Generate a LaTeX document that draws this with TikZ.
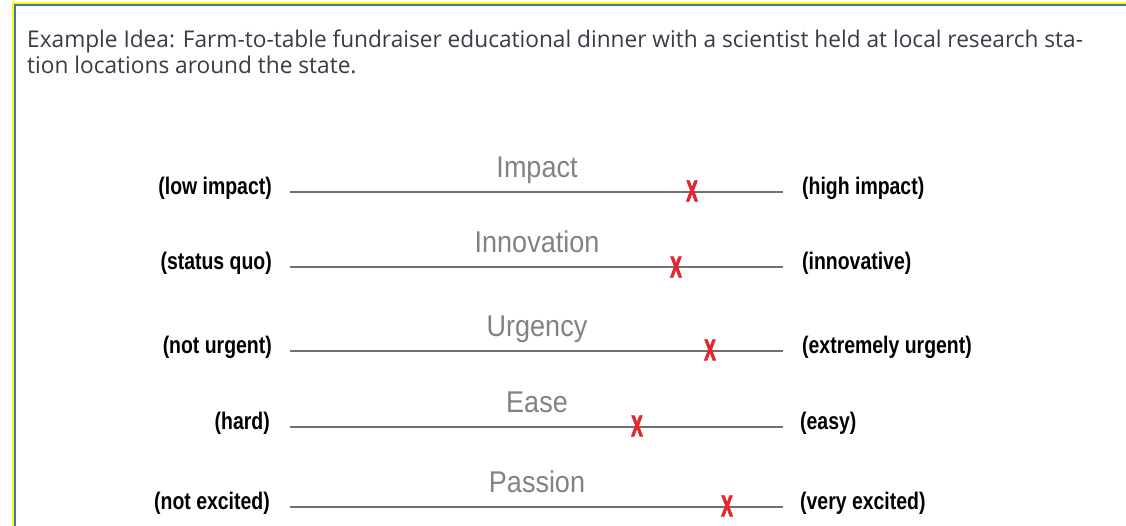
\documentclass[tikz,border=0pt]{standalone}
\usepackage{fontspec}
\setmainfont{Open Sans}
\newfontfamily\bodyfont[FakeStretch=0.985]{Open Sans}
\newfontfamily\labfont[FakeStretch=0.81]{Liberation Sans}
\newfontfamily\titfont[FakeStretch=0.9]{Liberation Sans}
\newfontfamily\xfont[FakeStretch=0.58,FakeBold=2.5]{Liberation Sans Bold}
\definecolor{bodytxt}{HTML}{3A3A48}
\definecolor{frameblue}{HTML}{4472C4}
\definecolor{frameyellow}{HTML}{FFFF00}
\definecolor{titgray}{HTML}{828282}
\definecolor{linegray}{HTML}{707070}
\definecolor{xred}{HTML}{E3262F}
\tikzset{
  body/.style={anchor=base west, inner sep=0pt, text=bodytxt, font=\bodyfont\fontsize{23}{26}\selectfont},
  scaleline/.style={draw=linegray, line width=1.4pt},
  ttl/.style={anchor=base, inner sep=0pt, text=titgray, font=\titfont\fontsize{30}{34}\selectfont},
  lablft/.style={anchor=base east, inner sep=0pt, text=black, font=\labfont\bfseries\fontsize{24}{26}\selectfont},
  labrgt/.style={anchor=base west, inner sep=0pt, text=black, font=\labfont\bfseries\fontsize{24}{26}\selectfont},
  xmark/.style={anchor=center, inner sep=0pt, text=xred, font=\xfont\fontsize{30}{32}\selectfont}
}
\begin{document}
\begin{tikzpicture}[x=1pt,y=-1pt]
\useasboundingbox (0,0) rectangle (1126,525);
\fill[white] (0,0) rectangle (1126,525);
% frame
\draw[frameyellow, line width=2pt] (13,530) -- (13,3) -- (1130,3);
\draw[frameblue, line width=2pt] (15,530) -- (15,5) -- (1130,5);
% heading
\node[body] (h1) at (27,47) {Example Idea: Farm-to-table fundraiser educational dinner with a scientist held at local research sta-};
\node[body] (h2) at (27,73) {tion locations around the state.};
% Impact
\coordinate (a1) at (290,192); \coordinate (b1) at (783,192);
\draw[scaleline] (a1) -- (b1);
\node[ttl] (t1) at (537,177.5) {Impact};
\node[lablft] (l1) at (272,194) {(low impact)};
\node[labrgt] (r1) at (802,194) {(high impact)};
\node[xmark] (x1) at (692,191) {X};
% Innovation
\coordinate (a2) at (290,267); \coordinate (b2) at (783,267);
\draw[scaleline] (a2) -- (b2);
\node[ttl] (t2) at (537,252.5) {Innovation};
\node[lablft] (l2) at (272,269) {(status quo)};
\node[labrgt] (r2) at (802,269) {(innovative)};
\node[xmark] (x2) at (676,267) {X};
% Urgency
\coordinate (a3) at (290,351); \coordinate (b3) at (783,351);
\draw[scaleline] (a3) -- (b3);
\node[ttl] (t3) at (537,336.5) {Urgency};
\node[lablft] (l3) at (272,353) {(not urgent)};
\node[labrgt] (r3) at (802,353) {(extremely urgent)};
\node[xmark] (x3) at (710,350) {X};
% Ease
\coordinate (a4) at (290,427); \coordinate (b4) at (783,427);
\draw[scaleline] (a4) -- (b4);
\node[ttl] (t4) at (537,412.5) {Ease};
\node[lablft] (l4) at (270,429) {(hard)};
\node[labrgt] (r4) at (800,429) {(easy)};
\node[xmark] (x4) at (637,426) {X};
% Passion
\coordinate (a5) at (290,507); \coordinate (b5) at (783,507);
\draw[scaleline] (a5) -- (b5);
\node[ttl] (t5) at (537,492.5) {Passion};
\node[lablft] (l5) at (270,509) {(not excited)};
\node[labrgt] (r5) at (800,509) {(very excited)};
\node[xmark] (x5) at (727,506) {X};
\end{tikzpicture}
\end{document}
